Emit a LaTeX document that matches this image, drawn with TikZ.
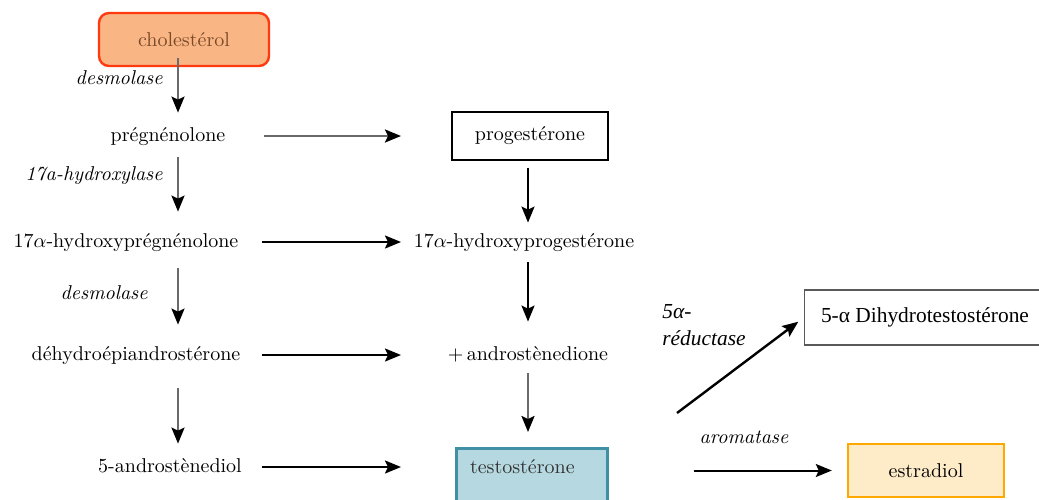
\documentclass[tikz,border=0pt]{standalone}
\usepackage{fontspec}
\newfontfamily\timesfont{Liberation Serif}
\usetikzlibrary{arrows.meta,calc}
\definecolor{cholfill}{HTML}{F9B684}
\definecolor{cholborder}{HTML}{FF3A10}
\definecolor{choltext}{HTML}{7A4A2A}
\definecolor{testofill}{HTML}{B5D8E1}
\definecolor{testoborder}{HTML}{3F8FA5}
\definecolor{estrfill}{HTML}{FEEBC8}
\definecolor{estrborder}{HTML}{FFA800}
\definecolor{linegray}{HTML}{6A6A6A}
\tikzset{
  mol/.style={inner sep=0pt, text height=7pt, text depth=2pt, font=\fontsize{10}{12}\selectfont},
  enz/.style={inner sep=0pt, font=\fontsize{10}{12}\selectfont\itshape},
  arr/.style={line width=1pt, -{Stealth[length=8pt,width=6.5pt,inset=1.5pt,color=black]}},
  garr/.style={arr, draw=linegray, line width=1.2pt},
  barr/.style={arr, draw=black},
}
\begin{document}
\begin{tikzpicture}[x=0.5pt,y=-0.5pt]
\useasboundingbox (0,0) rectangle (1039,499);
\clip (0,0) rectangle (1039,499);
\fill[white] (0,0) rectangle (1039,499);
% column guides
\coordinate (colA) at (178,0);
\coordinate (colB) at (528,0);
\coordinate (hs) at (262,0);
\coordinate (he) at (401,0);
% nodes
\node[draw=cholborder, fill=cholfill, line width=1.2pt, rounded corners=5pt,
      minimum width=85pt, minimum height=26.5pt, text=choltext,
      font=\fontsize{10}{12}\selectfont] (chol) at (184,39.5) {cholestérol};
\node[mol] (preg) at (168,136) {prégnénolone};
\node[mol] (hyd) at (126,242) {17$\alpha$-hydroxyprégnénolone};
\node[mol] (dhea) at (136,355) {déhydroépiandrostérone};
\node[mol] (andiol) at (170,467) {5-androstènediol};
\node[draw=black, line width=0.6pt, minimum width=78pt, minimum height=24pt,
      font=\fontsize{10}{12}\selectfont] (prog) at (530,136) {progestérone};
\node[mol] (hyp) at (524,242) {17$\alpha$-hydroxyprogestérone};
\node[mol] (andro) at (528,355) {+\,androstènedione};
\node[draw=testoborder, fill=testofill, line width=1.5pt, anchor=north,
      minimum width=75.5pt, text width=61.5pt, align=left,
      inner xsep=7pt, inner ysep=0pt, text height=12.5pt, text depth=32pt,
      text=black!80, font=\fontsize{10}{12}\selectfont] (testo) at (531.5,447) {testostérone};
\node[draw=estrborder, fill=estrfill, line width=1.2pt, minimum width=78pt,
      minimum height=26.5pt, font=\fontsize{10}{12}\selectfont] (estr) at (926,470.5) {estradiol};
\node[draw=black!65, line width=0.6pt, minimum width=120.5pt, minimum height=27.5pt,
      font=\timesfont\fontsize{10.7}{13}\selectfont] (dht) at (925,317.5) {5-α Dihydrotestostérone};
% enzyme labels
\node[enz, anchor=east] (e1) at (163,78) {desmolase};
\node[enz, anchor=east] (e2) at (163,176) {17a-hydroxylase};
\node[enz, anchor=east] (e3) at (148,293) {desmolase};
\node[enz] (e4) at (744,437) {aromatase};
\node[inner sep=0pt, anchor=north west, align=left,
      font=\timesfont\itshape\fontsize{10.7}{13.5}\selectfont] (e5) at (662,304) {5α-\\réductase};
\coordinate (dstart) at (677,413);
% vertical arrows, left column
\draw[garr, shorten <=-4.5pt, shorten >=7pt] (chol.south -| colA) -- (preg.north -| colA);
\draw[garr, shorten <=6pt, shorten >=10.5pt] (preg.south -| colA) -- (hyd.north -| colA);
\draw[garr, shorten <=8.5pt, shorten >=10.5pt] (hyd.south -| colA) -- (dhea.north -| colA);
\draw[garr, shorten <=12pt, shorten >=7pt] (dhea.south -| colA) -- (andiol.north -| colA);
% vertical arrows, middle column
\draw[barr, shorten <=3.5pt, shorten >=5pt] (prog.south -| colB) -- (hyp.north -| colB);
\draw[barr, shorten <=5.5pt, shorten >=12pt] (hyp.south -| colB) -- (andro.north -| colB);
\draw[garr, shorten <=4.5pt, shorten >=7.5pt] (andro.south -| colB) -- (testo.north -| colB);
% horizontal arrows
\draw[garr, shorten <=1pt] (preg -| hs) -- (prog -| he);
\draw[barr] (hyd -| hs) -- (hyp -| he);
\draw[barr] (dhea -| hs) -- (andro -| he);
\draw[barr] (andiol -| hs) -- (andiol -| he);
\draw[barr, shorten <=42.5pt, shorten >=7.5pt] (testo.east |- estr.west) -- (estr.west);
\draw[barr, line width=1.2pt, shorten >=3.5pt] (dstart) -- (dht.west);
\end{tikzpicture}
\end{document}
